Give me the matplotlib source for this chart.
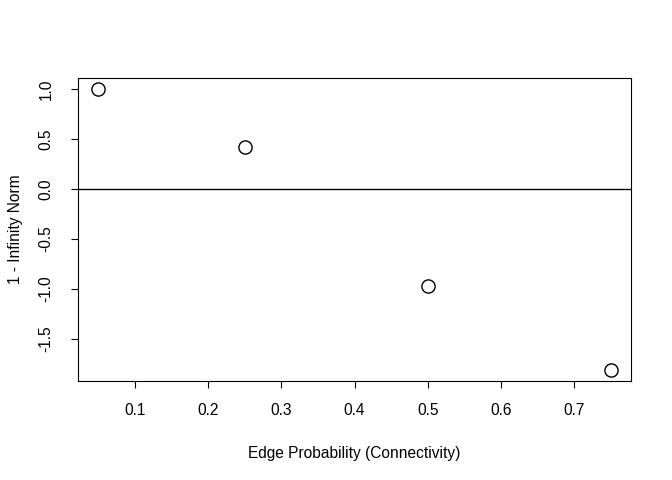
import matplotlib
matplotlib.use('Agg')
import matplotlib.pyplot as plt

# 数据
edge_prob = [0.05, 0.25, 0.50, 0.75]
one_minus_inf_norm = [1.0, 0.42, -0.97, -1.81]
x_ticks = [0.1, 0.2, 0.3, 0.4, 0.5, 0.6, 0.7]
y_ticks = [-1.5, -1.0, -0.5, 0.0, 0.5, 1.0]

plt.rcParams['font.family'] = ['Liberation Sans', 'DejaVu Sans']

fig = plt.figure(figsize=(6.72, 4.8), dpi=100)
ax = fig.add_axes([78/672, 1 - 381/480, (631 - 78)/672, (381 - 78)/480])

ax.plot(edge_prob, one_minus_inf_norm, 'o', mfc='white', mec='black',
        ms=9.5, mew=1.0, linestyle='none')
ax.axhline(0, color='black', lw=1.0)

# R风格: 数据范围两端各留4%
xr = max(edge_prob) - min(edge_prob)
yr = max(one_minus_inf_norm) - min(one_minus_inf_norm)
ax.set_xlim(min(edge_prob) - 0.04*xr, max(edge_prob) + 0.04*xr)
ax.set_ylim(min(one_minus_inf_norm) - 0.04*yr, max(one_minus_inf_norm) + 0.04*yr)

ax.set_xticks(x_ticks)
ax.set_xticklabels(['%.1f' % v for v in x_ticks])
ax.set_yticks(y_ticks)
ax.set_yticklabels(['%.1f' % v for v in y_ticks], rotation=90, va='center')
ax.tick_params(axis='x', direction='out', length=5, width=0.8, labelsize=11.2, pad=11)
ax.tick_params(axis='y', direction='out', length=5, width=0.8, labelsize=11.2, pad=12.5)

for s in ax.spines.values():
    s.set_linewidth(0.8)

ax.set_xlabel('Edge Probability (Connectivity)', fontsize=11.2, labelpad=20)
ax.set_ylabel('1 - Infinity Norm', fontsize=11.2, labelpad=11)

plt.savefig('out.png', dpi=100)
plt.close()
